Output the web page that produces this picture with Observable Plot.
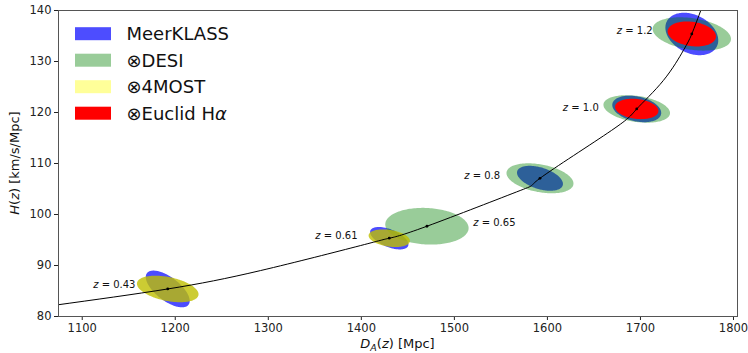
<!DOCTYPE html>
<html><head><meta charset="utf-8">
<script src="https://cdn.jsdelivr.net/npm/d3@7"></script>
<script src="https://cdn.jsdelivr.net/npm/@observablehq/plot@0.6"></script>
<style>body{margin:0;background:#fff;font-family:"DejaVu Sans",sans-serif}</style>
</head><body><div id="chart"></div>
<script>
// ---- data ----
const redshifts = ["0.43", "0.61", "0.65", "0.8", "1.0", "1.2"];
const fiducialDA = [1191.9, 1430, 1470.5, 1592, 1696, 1755.2];
const fiducialH = [85.4, 95.35, 97.7, 107.1, 120.7, 135.4];
const labelDA = [1111.8, 1350.5, 1520.3, 1510.6, 1616.6, 1674.6];
const labelH = [86.2, 95.9, 98.4, 107.6, 121.0, 136.1];

const curveDA = [1070, 1191.9, 1291.5, 1398.9, 1430, 1470.5, 1570.7, 1592, 1669, 1696, 1724.7, 1746.2, 1755.2, 1764.8, 1768];
const curveH = [82.2, 85.4, 89.0, 93.9, 95.35, 97.7, 104.7, 107.1, 116.5, 120.7, 126.3, 132.2, 135.4, 140, 141.6];

const surveys = ["MeerKLASS", "⊗DESI", "⊗4MOST", "⊗Euclid Hα"];
// 1-sigma errors on D_A [Mpc], H [km/s/Mpc] and correlation, per redshift (null = no forecast)
const sigmaDA_MeerKLASS = [23.6, 20.6, null, 24.7, 26.3, 28.4];
const sigmaH_MeerKLASS = [3.6, 2.2, null, 2.45, 2.6, 4.16];
const corr_MeerKLASS = [-0.65, -0.55, null, -0.45, -0.3, -0.3];
const sigmaDA_DESI = [null, null, 44.8, 36, 35.8, 42.1];
const sigmaH_DESI = [null, null, 3.6, 2.94, 2.7, 3.27];
const corr_DESI = [null, null, -0.1, -0.35, -0.3, -0.3];
const sigmaDA_4MOST = [33.1, 22.2, null, null, null, null];
const sigmaH_4MOST = [2.6, 1.73, null, null, null, null];
const corr_4MOST = [-0.4, -0.3, null, null, null, null];
const sigmaDA_Euclid = [null, null, null, null, 23.3, 26];
const sigmaH_Euclid = [null, null, null, null, 2.0, 2.45];
const corr_Euclid = [null, null, null, null, -0.2, -0.2];

const xTicks = [1100, 1200, 1300, 1400, 1500, 1600, 1700, 1800];
const yTicks = [80, 90, 100, 110, 120, 130, 140];

// ---- build ellipse outlines from the covariance parameters ----
function ellipses(name, sdA, sH, corr) {
  const out = [];
  redshifts.forEach((z, i) => {
    if (sdA[i] == null) return;
    const r = corr[i], q = Math.sqrt(1 - r * r), n = 160;
    for (let k = 0; k <= n; k++) {
      const t = 2 * Math.PI * k / n;
      out.push({id: name + z, x: fiducialDA[i] + sdA[i] * Math.cos(t), y: fiducialH[i] + sH[i] * (r * Math.cos(t) + q * Math.sin(t))});
    }
  });
  return out;
}
const eMeer = ellipses("m", sigmaDA_MeerKLASS, sigmaH_MeerKLASS, corr_MeerKLASS);
const eDESI = ellipses("d", sigmaDA_DESI, sigmaH_DESI, corr_DESI);
const e4MOST = ellipses("f", sigmaDA_4MOST, sigmaH_4MOST, corr_4MOST);
const eEuclid = ellipses("e", sigmaDA_Euclid, sigmaH_Euclid, corr_Euclid);
const curve = curveDA.map((x, i) => ({x, y: curveH[i]}));
const centers = redshifts.map((z, i) => ({z, x: fiducialDA[i], y: fiducialH[i]}));
const labels = redshifts.map((z, i) => ({t: "z = " + z, x: labelDA[i], y: labelH[i]}));

const W = 748, H = 353;
const plot = Plot.plot({
  width: W, height: H,
  marginLeft: 58, marginRight: 11, marginTop: 10, marginBottom: 37,
  style: {fontFamily: "DejaVu Sans, sans-serif", fontSize: "11.5px", color: "#222", background: "#fff"},
  x: {domain: [1074.5, 1804.3]},
  y: {domain: [80, 140]},
  marks: [
    Plot.line(eMeer, {x: "x", y: "y", z: "id", fill: "#0000ff", fillOpacity: 0.7, stroke: "none", clip: true}),
    Plot.line(eDESI, {x: "x", y: "y", z: "id", fill: "#008000", fillOpacity: 0.4, stroke: "none", clip: true}),
    Plot.line(e4MOST, {x: "x", y: "y", z: "id", fill: "#bfbf00", fillOpacity: 0.8, stroke: "none", clip: true}),
    Plot.line(eEuclid, {x: "x", y: "y", z: "id", fill: "#ff0000", fillOpacity: 1, stroke: "none", clip: true}),
    Plot.line(curve, {x: "x", y: "y", curve: "natural", stroke: "#000", strokeWidth: 1, clip: true}),
    Plot.dot(centers, {x: "x", y: "y", r: 1.4, fill: "#000", stroke: "none"}),
    Plot.text(labels, {x: "x", y: "y", text: "t", textAnchor: "start", fontSize: 10, fill: "#111"}),
    Plot.axisX({ticks: xTicks, tickSize: 4, tickPadding: 3, label: null, tickFormat: d => String(d)}),
    Plot.axisY({ticks: yTicks, tickSize: 4, tickPadding: 3, label: null}),
    Plot.frame({stroke: "#555"})
  ]
});
document.getElementById("chart").appendChild(plot);

const svg = d3.select(plot);
// italic z in the redshift labels
svg.selectAll("text").each(function () {
  const s = this.textContent;
  if (s.startsWith("z = ")) {
    const el = d3.select(this);
    el.text("");
    el.append("tspan").attr("font-style", "italic").text("z");
    el.append("tspan").text(" = " + s.slice(4));
  }
});
// axis labels
const xl = svg.append("text").attr("x", 397.5).attr("y", 348).attr("text-anchor", "middle")
  .attr("font-size", 13).attr("fill", "#111");
xl.append("tspan").attr("font-style", "italic").text("D");
xl.append("tspan").attr("font-style", "italic").attr("font-size", 9.5).attr("dy", 3).text("A");
xl.append("tspan").attr("dy", -3).text("(");
xl.append("tspan").attr("font-style", "italic").text("z");
xl.append("tspan").text(") [Mpc]");
const yl = svg.append("text").attr("transform", "translate(19,163) rotate(-90)").attr("text-anchor", "middle")
  .attr("font-size", 13).attr("fill", "#111");
yl.append("tspan").attr("font-style", "italic").text("H");
yl.append("tspan").text("(");
yl.append("tspan").attr("font-style", "italic").text("z");
yl.append("tspan").text(") [km/s/Mpc]");
// legend
const legendColors = ["#4d4dff", "#99cc99", "#ffff99", "#ff0000"];
const lg = svg.append("g").attr("text-anchor", "start");
surveys.forEach((s, i) => {
  const cy = 33.7 + i * 26.5;
  lg.append("rect").attr("x", 75).attr("y", cy - 6.5).attr("width", 36).attr("height", 13).attr("fill", legendColors[i]);
  const t = lg.append("text").attr("x", 126.5).attr("y", cy).attr("dy", "0.36em").attr("text-anchor", "start")
    .attr("font-size", 18).attr("fill", "#111");
  if (s.endsWith("α")) {
    t.append("tspan").text(s.slice(0, -1));
    t.append("tspan").attr("font-style", "italic").text("α");
  } else t.text(s);
});
</script></body></html>
